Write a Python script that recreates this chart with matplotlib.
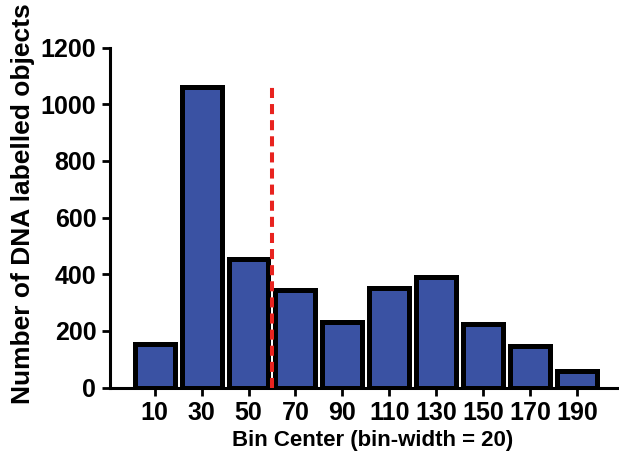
import matplotlib
matplotlib.use('Agg')
import matplotlib.pyplot as plt

bin_centers = [10, 30, 50, 70, 90, 110, 130, 150, 170, 190]
counts = [152, 1062, 455, 343, 230, 350, 390, 226, 146, 57]
threshold = 60
threshold_top = 1065

plt.rcParams['font.family'] = ['Liberation Sans', 'DejaVu Sans']
plt.rcParams['font.weight'] = 'bold'

fig = plt.figure(figsize=(6.19, 4.63), dpi=100)
ax = fig.add_axes([0.178, 0.163, 0.822, 0.734])

ax.bar(bin_centers, counts, width=17, color='#3a52a3', edgecolor='black', linewidth=3.6, zorder=2)
ax.plot([threshold, threshold], [0, threshold_top], color='#e8231f', linestyle=(0, (2.5, 1.5)),
        linewidth=2.9, zorder=3)

ax.set_xlim(-9, 208)
ax.set_ylim(0, 1200)
ax.set_xticks(bin_centers)
ax.set_yticks(range(0, 1201, 200))
ax.spines['top'].set_visible(False)
ax.spines['right'].set_visible(False)
ax.spines['left'].set_linewidth(2.2)
ax.spines['bottom'].set_linewidth(2.2)
ax.tick_params(direction='out', length=6, width=2, labelsize=18, pad=4)
for lab in ax.get_xticklabels() + ax.get_yticklabels():
    lab.set_fontweight('bold')

ax.set_xlabel('Bin Center (bin-width = 20)', fontsize=16, fontweight='bold')
ax.set_ylabel('Number of DNA labelled objects', fontsize=19, fontweight='bold')
ax.xaxis.set_label_coords(0.515, -0.126)
ax.xaxis.label.set_va('top')
ax.yaxis.set_label_coords(-0.148, 0.54)

fig.savefig('out.png', dpi=100)
